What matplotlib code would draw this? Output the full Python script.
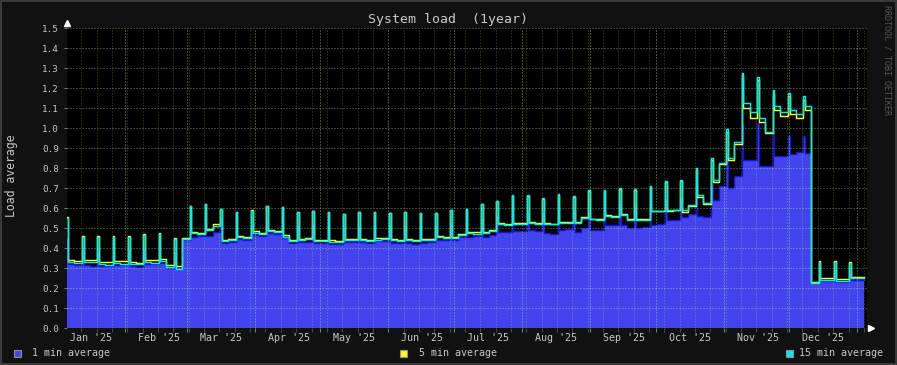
import numpy as np
import pandas as pd
import matplotlib
matplotlib.use("Agg")
import matplotlib.pyplot as plt
import matplotlib.dates as mdates
from matplotlib.patches import Rectangle
from matplotlib.ticker import MultipleLocator, FormatStrFormatter, NullFormatter

# weekly job spike (sunday), one entry per week
week_start = pd.date_range("2025-01-05 08:00", periods=52, freq="7D")

spike_15 = [0.55, 0.455, 0.455, 0.458, 0.458, 0.467, 0.472, 0.445,
            0.61, 0.62, 0.595, 0.58, 0.588, 0.612, 0.605, 0.58,
            0.585, 0.58, 0.57, 0.58, 0.58, 0.575, 0.58, 0.575,
            0.575, 0.59, 0.595, 0.62, 0.635, 0.665, 0.665, 0.65,
            0.67, 0.66, 0.69, 0.69, 0.70, 0.695, 0.71, 0.735,
            0.74, 0.80, 0.85, 0.995, 1.275, 1.255, 1.19, 1.175,
            1.16, 0.33, 0.33, 0.325]
spike_5 = [0.555, 0.46, 0.46, 0.463, 0.463, 0.472, 0.477, 0.45,
           0.612, 0.622, 0.598, 0.583, 0.59, 0.612, 0.607, 0.583,
           0.588, 0.583, 0.573, 0.583, 0.583, 0.578, 0.583, 0.578,
           0.578, 0.593, 0.598, 0.62, 0.635, 0.66, 0.66, 0.645,
           0.665, 0.655, 0.685, 0.685, 0.695, 0.69, 0.705, 0.73,
           0.735, 0.79, 0.84, 0.98, 1.26, 1.24, 1.17, 1.16,
           1.14, 0.335, 0.335, 0.33]
spike_1 = [0.45, 0.39, 0.39, 0.39, 0.39, 0.395, 0.40, 0.38,
           0.53, 0.55, 0.54, 0.51, 0.52, 0.54, 0.54, 0.51,
           0.52, 0.51, 0.50, 0.51, 0.51, 0.51, 0.51, 0.51,
           0.51, 0.52, 0.53, 0.55, 0.56, 0.58, 0.58, 0.58,
           0.58, 0.59, 0.58, 0.60, 0.62, 0.61, 0.62, 0.64,
           0.65, 0.72, 0.72, 0.87, 1.02, 1.025, 0.975, 0.96,
           0.96, 0.29, 0.29, 0.28]

# level after the spike: first half / second half of each week
load5_a = [0.34, 0.342, 0.33, 0.337, 0.33, 0.342, 0.345, 0.31,
           0.48, 0.495, 0.44, 0.462, 0.485, 0.493, 0.465, 0.448,
           0.44, 0.44, 0.447, 0.445, 0.45, 0.447, 0.445, 0.445,
           0.46, 0.455, 0.482, 0.482, 0.525, 0.525, 0.53, 0.526,
           0.53, 0.53, 0.548, 0.565, 0.57, 0.545, 0.587, 0.585,
           0.582, 0.655, 0.73, 0.84, 1.10, 1.03, 1.09, 1.07,
           1.09, 0.25, 0.245, 0.255]
load5_b = [0.335, 0.34, 0.33, 0.335, 0.328, 0.34, 0.318, 0.45,
           0.475, 0.52, 0.445, 0.455, 0.475, 0.487, 0.442, 0.452,
           0.442, 0.438, 0.445, 0.444, 0.45, 0.443, 0.44, 0.447,
           0.458, 0.472, 0.48, 0.492, 0.522, 0.527, 0.528, 0.522,
           0.53, 0.555, 0.545, 0.56, 0.545, 0.545, 0.585, 0.59,
           0.61, 0.62, 0.82, 0.92, 1.05, 0.975, 1.06, 1.05,
           0.23, 0.25, 0.245, 0.255]
load15_a = [0.33, 0.33, 0.32, 0.325, 0.322, 0.33, 0.335, 0.298,
            0.475, 0.49, 0.435, 0.455, 0.478, 0.487, 0.458, 0.442,
            0.435, 0.434, 0.44, 0.44, 0.444, 0.44, 0.44, 0.44,
            0.455, 0.45, 0.476, 0.476, 0.52, 0.52, 0.525, 0.522,
            0.527, 0.525, 0.545, 0.56, 0.567, 0.543, 0.587, 0.59,
            0.59, 0.665, 0.74, 0.85, 1.125, 1.05, 1.11, 1.09,
            1.11, 0.24, 0.235, 0.25]
load15_b = [0.325, 0.33, 0.317, 0.322, 0.32, 0.325, 0.307, 0.445,
            0.47, 0.51, 0.44, 0.45, 0.47, 0.48, 0.435, 0.445,
            0.435, 0.432, 0.44, 0.438, 0.445, 0.438, 0.435, 0.442,
            0.452, 0.466, 0.474, 0.486, 0.518, 0.522, 0.522, 0.52,
            0.527, 0.55, 0.542, 0.558, 0.543, 0.543, 0.587, 0.592,
            0.618, 0.628, 0.825, 0.93, 1.08, 0.98, 1.08, 1.07,
            0.225, 0.24, 0.235, 0.25]
load1_a = [0.32, 0.317, 0.312, 0.318, 0.31, 0.32, 0.325, 0.30,
           0.455, 0.46, 0.425, 0.445, 0.465, 0.475, 0.45, 0.43,
           0.425, 0.423, 0.43, 0.43, 0.435, 0.428, 0.428, 0.428,
           0.44, 0.44, 0.458, 0.455, 0.482, 0.485, 0.49, 0.475,
           0.49, 0.48, 0.49, 0.515, 0.515, 0.50, 0.515, 0.54,
           0.555, 0.56, 0.64, 0.70, 0.84, 0.81, 0.86, 0.87,
           0.875, 0.235, 0.23, 0.24]
load1_b = [0.315, 0.312, 0.31, 0.318, 0.305, 0.32, 0.30, 0.44,
           0.46, 0.48, 0.43, 0.44, 0.46, 0.47, 0.425, 0.432,
           0.425, 0.42, 0.43, 0.428, 0.435, 0.425, 0.423, 0.43,
           0.44, 0.455, 0.46, 0.465, 0.48, 0.485, 0.488, 0.47,
           0.495, 0.50, 0.49, 0.515, 0.50, 0.505, 0.52, 0.54,
           0.57, 0.555, 0.71, 0.76, 0.84, 0.81, 0.86, 0.88,
           0.225, 0.235, 0.23, 0.24]

month_labels = ["Jan '25", "Feb '25", "Mar '25", "Apr '25", "May '25", "Jun '25",
                "Jul '25", "Aug '25", "Sep '25", "Oct '25", "Nov '25", "Dec '25"]

t_start = pd.Timestamp("2025-01-05 05:00")
t_end = pd.Timestamp("2026-01-05 05:00")
data_end = pd.Timestamp("2026-01-04 00:00")


def build(spike, first, second):
    t, v = [t_start], [spike[0]]
    for ws, s, a, b in zip(week_start, spike, first, second):
        t += [ws, ws + pd.Timedelta(hours=18), ws + pd.Timedelta(hours=84)]
        v += [s, a, b]
    t.append(data_end)
    v.append(v[-1])
    return np.array(t), np.array(v)


t1, v1 = build(spike_1, load1_a, load1_b)
t5, v5 = build(spike_5, load5_a, load5_b)
t15, v15 = build(spike_15, load15_a, load15_b)

W, H = 897, 365
fig = plt.figure(figsize=(W / 100, H / 100), dpi=100, facecolor="#111111")
fig.patches.append(Rectangle((0, 0), 1, 1, transform=fig.transFigure, fill=False,
                             edgecolor="#3a3a3a", lw=2.9))
ax = fig.add_axes([66.5 / W, (H - 328.3) / H, 800 / W, 300 / H])
ax.set_facecolor("black")
for s in ax.spines.values():
    s.set_visible(False)

mono = "DejaVu Sans Mono"
txt = "#c8c8c8"

# 1 min area
ax.fill_between(t1, 0, v1, step="post", color="#4444ee", lw=0, zorder=1)
ax.step(t1, v1, where="post", color="#1414cc", lw=1.0, zorder=1.5)
# spike columns
is_spike = np.zeros(len(t15), dtype=bool)
is_spike[1:-1:3] = True
ax.fill_between(t15, v1, np.maximum(v5, v15), where=is_spike, step="post",
                color="#34b08c", lw=0, zorder=1.6)
ax.step(t5, v5, where="post", color="#ffff00", lw=1.05, zorder=2)
ax.step(t15, v15, where="post", color="#00eeee", lw=1.05, zorder=2.1)

ax.set_xlim(t_start, t_end)
ax.set_ylim(0, 1.5)
ax.yaxis.set_major_locator(MultipleLocator(0.1))
ax.yaxis.set_major_formatter(FormatStrFormatter("%.1f"))
ax.xaxis.set_major_locator(mdates.MonthLocator())
ax.xaxis.set_minor_locator(mdates.WeekdayLocator(byweekday=mdates.SU))
ax.xaxis.set_major_formatter(NullFormatter())

# rrdtool draws the grid over the data
ax.set_axisbelow(False)
dots = (0, (1, 2))
ax.yaxis.grid(True, color=(0.7, 1.0, 0.7), alpha=0.55, ls=dots, lw=0.72)
ax.xaxis.grid(True, which="major", color=(0.65, 1.0, 0.65), alpha=0.65, ls=dots, lw=0.72)
ax.xaxis.grid(True, which="minor", color=(1.0, 1.0, 0.3), alpha=0.3, ls=dots, lw=0.72)
ax.tick_params(axis="y", length=2.5, width=0.7, color="#6a8a6a", pad=3,
               labelsize=6.7, labelcolor=txt, labelfontfamily=mono)
ax.tick_params(axis="x", which="major", length=3, width=0.7, color="#5f9a5f")
ax.tick_params(axis="x", which="minor", length=3, width=0.7, color="#4a4a4a")

months = pd.date_range("2025-01-01", periods=12, freq="MS")
for m, lab in zip(months, month_labels):
    ax.text(m + pd.Timedelta(hours=372), -0.031, lab, transform=ax.get_xaxis_transform(),
            ha="center", va="center", fontsize=7.2, color=txt, family=mono)

# axis arrows
ax.plot([0], [1.017], marker="^", ms=4, color="white", transform=ax.transAxes, clip_on=False)
ax.plot([1.006], [0], marker=">", ms=4, color="white", transform=ax.transAxes, clip_on=False)

fig.text(448 / W, 1 - 19 / H, "System load  (1year)", ha="center", va="center",
         fontsize=9.5, color=txt, family=mono)
fig.text(12 / W, 1 - 176 / H, "Load average", rotation=90, ha="center", va="center",
         fontsize=8.3, color=txt, family=mono)
fig.text(887 / W, 1 - 60 / H, "RRDTOOL / TOBI OETIKER", rotation=270, ha="center",
         va="center", fontsize=6, color="#555555", family=mono)

# legend
for lab, col, xs, xt in [("1 min average", "#4444ee", 13.5, 32),
                         ("5 min average", "#ffff00", 400, 419),
                         ("15 min average", "#00eeee", 786, 799)]:
    fig.patches.append(Rectangle((xs / W, 1 - 356.5 / H), 7 / W, 7 / H, transform=fig.transFigure,
                                 facecolor=col, edgecolor="#909090", lw=0.8))
    fig.text(xt / W, 1 - 353 / H, lab, ha="left", va="center", fontsize=7.2, color=txt, family=mono)

fig.savefig("out.png", dpi=100, facecolor=fig.get_facecolor())
